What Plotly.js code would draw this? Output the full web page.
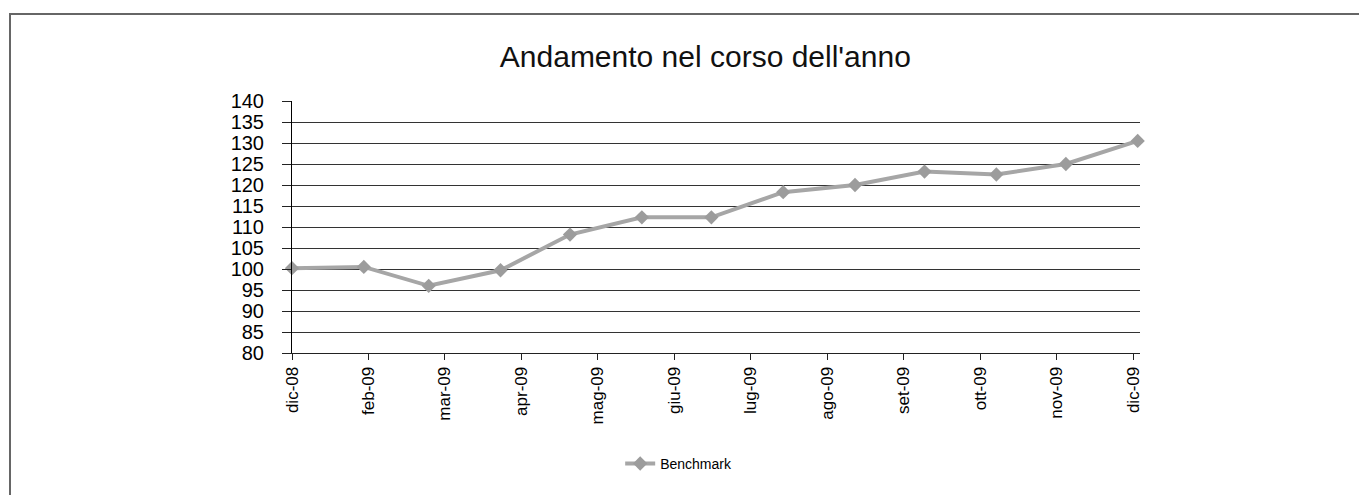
<!DOCTYPE html>
<html>
<head>
<meta charset="utf-8">
<script src="https://cdn.plot.ly/plotly-3.0.1.min.js"></script>
<style>
  html, body { margin: 0; padding: 0; background: #fff; }
  #frame { position: absolute; left: 9px; top: 13px; width: 1360px; height: 490px;
           border-left: 2px solid #666; border-top: 2px solid #666; }
  #chart { position: absolute; left: 0; top: 0; width: 1359px; height: 495px; }
</style>
</head>
<body>
<div id="frame"></div>
<div id="chart"></div>
<script>
// Data (month-end dates)
const dates = ['2008-12-31','2009-01-31','2009-02-28','2009-03-31','2009-04-30','2009-05-31',
               '2009-06-30','2009-07-31','2009-08-31','2009-09-30','2009-10-31','2009-11-30','2009-12-31'];
const benchmark = [100.2, 100.5, 96.0, 99.7, 108.2, 112.3, 112.3, 118.3, 120.0, 123.2, 122.5, 125.0, 130.5];
const tickLabels = ['dic-08','feb-09','mar-09','apr-09','mag-09','giu-09','lug-09','ago-09','set-09','ott-09','nov-09','dic-09'];
const seriesName = 'Benchmark';
const chartTitle = "Andamento nel corso dell'anno";

// Tick positions: evenly spaced (33-day major unit) starting at first date
const start = Date.UTC(2008, 11, 31);
const tickVals = tickLabels.map((_, k) => new Date(start + k * 33 * 86400000).toISOString().slice(0, 10));

const font = 'Liberation Sans, Arial, Helvetica, sans-serif';

const trace = {
  x: dates,
  y: benchmark,
  type: 'scatter',
  mode: 'lines+markers',
  name: seriesName,
  line: { color: '#a6a6a6', width: 4 },
  marker: { symbol: 'diamond', size: 11, color: '#9c9c9c' },
  cliponaxis: false
};

const layout = {
  width: 1359,
  height: 495,
  paper_bgcolor: 'rgba(0,0,0,0)',
  plot_bgcolor: 'rgba(0,0,0,0)',
  margin: { l: 292, r: 219, t: 101, b: 142, pad: 0 },
  title: {
    text: chartTitle,
    font: { family: font, size: 30, color: '#111' },
    x: 0.519, xanchor: 'center',
    y: 0.885, yanchor: 'middle'
  },
  xaxis: {
    type: 'date',
    range: ['2008-12-31', '2010-01-01'],
    tickmode: 'array',
    tickvals: tickVals,
    ticktext: tickLabels,
    tickangle: -90,
    ticks: 'outside',
    ticklen: 6,
    tickcolor: '#222',
    tickfont: { family: font, size: 17, color: '#000' },
    showgrid: false,
    showline: true,
    linecolor: '#222',
    linewidth: 1,
    zeroline: false,
    fixedrange: true
  },
  yaxis: {
    range: [80, 140],
    dtick: 5,
    tick0: 80,
    ticks: 'outside',
    ticklen: 9,
    tickcolor: '#222',
    ticklabelstandoff: 14,
    tickfont: { family: font, size: 20, color: '#000' },
    showgrid: true,
    gridcolor: '#333',
    gridwidth: 1,
    showline: true,
    linecolor: '#000',
    linewidth: 1,
    zeroline: false,
    fixedrange: true
  },
  showlegend: true,
  legend: {
    orientation: 'h',
    x: 0.387, xanchor: 'left',
    y: -0.44, yanchor: 'middle',
    font: { family: font, size: 14, color: '#000' },
    bgcolor: 'rgba(0,0,0,0)'
  }
};

Plotly.newPlot('chart', [trace], layout, { displayModeBar: false, staticPlot: true });
</script>
</body>
</html>
